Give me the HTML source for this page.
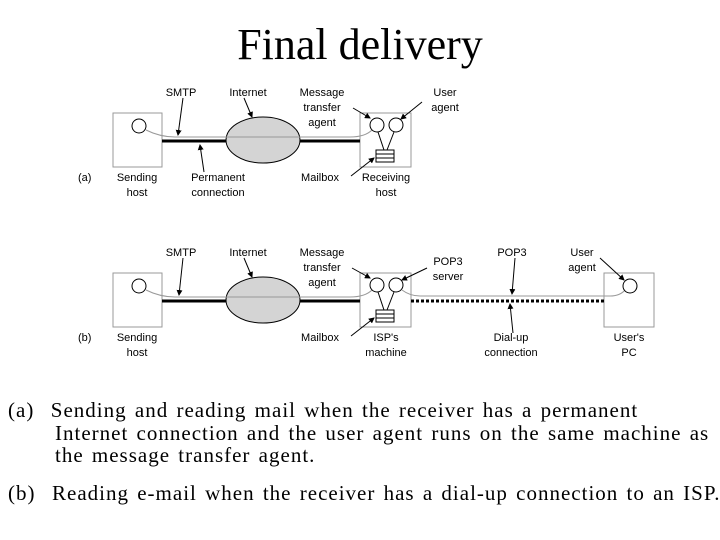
<!DOCTYPE html>
<html><head><meta charset="utf-8"><style>
body{margin:0;background:#fff;width:720px;height:540px;overflow:hidden;position:relative;font-family:"Liberation Serif",serif}
.t{position:absolute;left:0;width:720px;text-align:center;top:19px;font-size:44px}
.c{position:absolute;left:8px;font-size:21px;line-height:22.5px;letter-spacing:1px;word-spacing:2px;white-space:nowrap}
svg text{font-family:"Liberation Sans",sans-serif;font-size:11px;fill:#000}
</style></head><body>
<div class="t">Final delivery</div>
<svg width="720" height="540" style="position:absolute;left:0;top:0">
<defs><marker id="a" markerWidth="6" markerHeight="6" refX="5" refY="3" orient="auto"><path d="M0,0L6,3L0,6z" fill="#000"/></marker></defs>
<g>
<rect x="113" y="113" width="49" height="54" fill="#fff" stroke="#999"/>
<rect x="360" y="113" width="51" height="54" fill="#fff" stroke="#999"/>
<line x1="162" y1="141" x2="360" y2="141" stroke="#000" stroke-width="3"/>
<ellipse cx="263" cy="140" rx="37" ry="23" fill="#d4d4d4" stroke="#000"/>
<path d="M146,130 Q160,137 175,137 L350,137 Q365,137 372,130" fill="none" stroke="#999" stroke-width="1"/>
<circle cx="139" cy="126" r="7" fill="#fff" stroke="#000"/>
<circle cx="377" cy="125" r="7" fill="#fff" stroke="#000"/>
<circle cx="396" cy="125" r="7" fill="#fff" stroke="#000"/>
<line x1="378" y1="132" x2="384" y2="150" stroke="#000"/><line x1="394" y1="132" x2="387" y2="150" stroke="#000"/>
<rect x="376" y="150" width="18" height="12" fill="#fff" stroke="#000"/>
<line x1="376" y1="154" x2="394" y2="154" stroke="#000"/><line x1="376" y1="158" x2="394" y2="158" stroke="#000"/>
<line x1="183" y1="98" x2="178" y2="135" stroke="#000" marker-end="url(#a)"/>
<line x1="244" y1="98" x2="252" y2="117" stroke="#000" marker-end="url(#a)"/>
<line x1="204" y1="172" x2="200" y2="145" stroke="#000" marker-end="url(#a)"/>
<line x1="351" y1="176" x2="374" y2="158" stroke="#000" marker-end="url(#a)"/>
<line x1="353" y1="108" x2="370" y2="118" stroke="#000" marker-end="url(#a)"/>
<line x1="422" y1="102" x2="401" y2="119" stroke="#000" marker-end="url(#a)"/>
<text x="181" y="96" text-anchor="middle">SMTP</text>
<text x="248" y="96" text-anchor="middle">Internet</text>
<text x="322" y="96" text-anchor="middle">Message</text>
<text x="322" y="111" text-anchor="middle">transfer</text>
<text x="322" y="126" text-anchor="middle">agent</text>
<text x="78" y="181">(a)</text>
<text x="137" y="181" text-anchor="middle">Sending</text>
<text x="137" y="196" text-anchor="middle">host</text>
<text x="218" y="181" text-anchor="middle">Permanent</text>
<text x="218" y="196" text-anchor="middle">connection</text>
<text x="320" y="181" text-anchor="middle">Mailbox</text>
<text x="386" y="181" text-anchor="middle">Receiving</text>
<text x="386" y="196" text-anchor="middle">host</text>
<text x="445" y="96" text-anchor="middle">User</text>
<text x="445" y="111" text-anchor="middle">agent</text>
</g>
<g>
<rect x="113" y="273" width="49" height="54" fill="#fff" stroke="#999"/>
<rect x="360" y="273" width="51" height="54" fill="#fff" stroke="#999"/>
<rect x="604" y="273" width="50" height="54" fill="#fff" stroke="#999"/>
<line x1="162" y1="301" x2="360" y2="301" stroke="#000" stroke-width="3"/>
<line x1="411" y1="301" x2="604" y2="301" stroke="#000" stroke-width="3" stroke-dasharray="3,2"/>
<ellipse cx="263" cy="300" rx="37" ry="23" fill="#d4d4d4" stroke="#000"/>
<path d="M146,290 Q160,297 175,297 L350,297 Q365,297 372,290" fill="none" stroke="#999"/>
<path d="M402,290 Q410,296 420,296 L610,296 Q620,296 625,290" fill="none" stroke="#999"/>
<circle cx="139" cy="286" r="7" fill="#fff" stroke="#000"/>
<circle cx="377" cy="285" r="7" fill="#fff" stroke="#000"/>
<circle cx="396" cy="285" r="7" fill="#fff" stroke="#000"/>
<circle cx="630" cy="286" r="7" fill="#fff" stroke="#000"/>
<line x1="378" y1="292" x2="384" y2="310" stroke="#000"/><line x1="394" y1="292" x2="387" y2="310" stroke="#000"/>
<rect x="376" y="310" width="18" height="12" fill="#fff" stroke="#000"/>
<line x1="376" y1="314" x2="394" y2="314" stroke="#000"/><line x1="376" y1="318" x2="394" y2="318" stroke="#000"/>
<line x1="183" y1="258" x2="179" y2="295" stroke="#000" marker-end="url(#a)"/>
<line x1="244" y1="258" x2="252" y2="277" stroke="#000" marker-end="url(#a)"/>
<line x1="351" y1="336" x2="374" y2="318" stroke="#000" marker-end="url(#a)"/>
<line x1="352" y1="268" x2="370" y2="278" stroke="#000" marker-end="url(#a)"/>
<line x1="427" y1="268" x2="402" y2="280" stroke="#000" marker-end="url(#a)"/>
<line x1="515" y1="258" x2="512" y2="294" stroke="#000" marker-end="url(#a)"/>
<line x1="513" y1="333" x2="510" y2="304" stroke="#000" marker-end="url(#a)"/>
<line x1="600" y1="258" x2="624" y2="280" stroke="#000" marker-end="url(#a)"/>
<text x="181" y="256" text-anchor="middle">SMTP</text>
<text x="248" y="256" text-anchor="middle">Internet</text>
<text x="322" y="256" text-anchor="middle">Message</text>
<text x="322" y="271" text-anchor="middle">transfer</text>
<text x="322" y="286" text-anchor="middle">agent</text>
<text x="448" y="265" text-anchor="middle">POP3</text>
<text x="448" y="280" text-anchor="middle">server</text>
<text x="512" y="256" text-anchor="middle">POP3</text>
<text x="582" y="256" text-anchor="middle">User</text>
<text x="582" y="271" text-anchor="middle">agent</text>
<text x="78" y="341">(b)</text>
<text x="137" y="341" text-anchor="middle">Sending</text>
<text x="137" y="356" text-anchor="middle">host</text>
<text x="320" y="341" text-anchor="middle">Mailbox</text>
<text x="386" y="341" text-anchor="middle">ISP's</text>
<text x="386" y="356" text-anchor="middle">machine</text>
<text x="511" y="341" text-anchor="middle">Dial-up</text>
<text x="511" y="356" text-anchor="middle">connection</text>
<text x="629" y="341" text-anchor="middle">User's</text>
<text x="629" y="356" text-anchor="middle">PC</text>
</g>
</svg>
<div class="c" style="top:399px">(a)&nbsp; Sending and reading mail when the receiver has a permanent<br><span style="padding-left:47px">Internet connection and the user agent runs on the same machine as</span><br><span style="padding-left:47px">the message transfer agent.</span></div>
<div class="c" style="top:482px">(b)&nbsp; Reading e-mail when the receiver has a dial-up connection to an ISP.</div>
</body></html>
